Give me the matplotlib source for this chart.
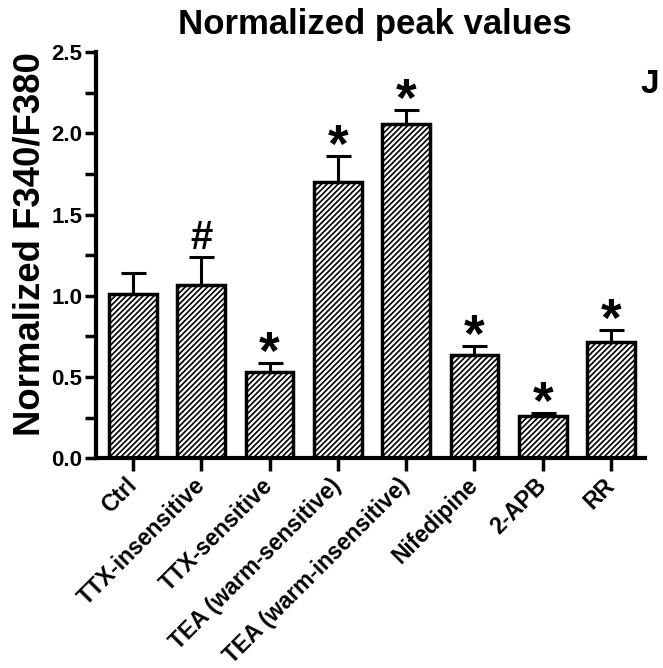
import matplotlib.pyplot as plt
from matplotlib.ticker import MultipleLocator

plt.rcParams['font.family'] = ['Liberation Sans', 'DejaVu Sans']
plt.rcParams['font.weight'] = 'bold'
plt.rcParams['hatch.linewidth'] = 1.2

groups = ['Ctrl', 'TTX-insensitive', 'TTX-sensitive', 'TEA (warm-sensitive)',
          'TEA (warm-insensitive)', 'Nifedipine', '2-APB', 'RR']
means = [1.01, 1.065, 0.53, 1.70, 2.06, 0.635, 0.26, 0.715]
sems = [0.13, 0.175, 0.055, 0.16, 0.085, 0.055, 0.02, 0.075]
marks = ['', '#', '*', '*', '*', '*', '*', '*']

fig = plt.figure(figsize=(6.63, 6.68), dpi=100)
ax = fig.add_axes([0.145, 0.314, 0.828, 0.608])

x = range(len(groups))
ax.bar(x, means, width=0.7, color='white', edgecolor='black', linewidth=2.5,
       hatch='//////', zorder=2)
ax.errorbar(x, means, yerr=[[0] * len(sems), sems], fmt='none', ecolor='black',
            elinewidth=2.2, capsize=9, capthick=2.2, zorder=1)

# significance marks above each error bar
for xi, m, s, t in zip(x, means, sems, marks):
    if t == '*':
        ax.text(xi, m + s - 0.105, t, ha='center', va='bottom', fontsize=38,
                fontweight='bold')
    elif t == '#':
        ax.text(xi, m + s + 0.0, t, ha='center', va='bottom', fontsize=29,
                fontweight='bold')

ax.set_xlim(-0.54, 7.5)
ax.set_ylim(0, 2.5)
ax.yaxis.set_major_locator(MultipleLocator(0.5))
ax.yaxis.set_minor_locator(MultipleLocator(0.25))
ax.yaxis.set_major_formatter(plt.FormatStrFormatter('%.1f'))
ax.set_xticks(list(x))
ax.set_xticklabels(groups, rotation=45, ha='right', va='center',
                   rotation_mode='anchor', fontsize=16.5, fontweight='bold')

for side in ['top', 'right']:
    ax.spines[side].set_visible(False)
for side in ['left', 'bottom']:
    ax.spines[side].set_linewidth(3)

ax.tick_params(axis='both', which='both', width=2.5, direction='out')
ax.tick_params(axis='y', which='major', length=8, labelsize=16, pad=2)
ax.tick_params(axis='y', which='minor', length=8)
ax.tick_params(axis='x', length=9, pad=8)

ax.set_ylabel('Normalized F340/F380', fontsize=26.3, fontweight='bold')
ax.yaxis.set_label_coords(-0.089, 0.527)
fig.text(0.5655, 0.949, 'Normalized peak values', fontsize=25,
         fontweight='bold', ha='center', va='baseline')
fig.text(0.980, 0.861, 'J', fontsize=24, fontweight='bold', ha='center',
         va='baseline')

fig.savefig('out.png', dpi=100)
